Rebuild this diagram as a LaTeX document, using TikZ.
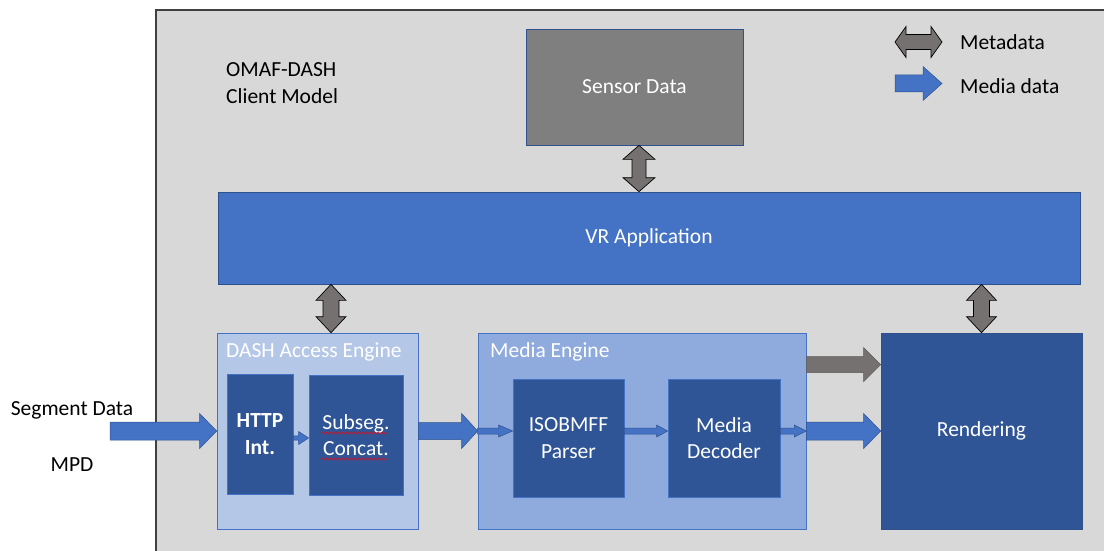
\documentclass[tikz,border=0pt]{standalone}
\usepackage{fontspec}
\setmainfont{Carlito}
\usetikzlibrary{calc,decorations.pathmorphing}
\definecolor{bggray}{HTML}{D8D8D8}
\definecolor{bgline}{HTML}{404040}
\definecolor{sensorgray}{HTML}{7F7F7F}
\definecolor{vrblue}{HTML}{4472C4}
\definecolor{lightblue}{HTML}{B4C7E7}
\definecolor{midblue}{HTML}{8FAADC}
\definecolor{darkblue}{HTML}{2F5597}
\definecolor{bordc}{HTML}{2F528F}
\definecolor{metagray}{HTML}{767171}
% horizontal single arrow: style, from, to, halfshaft, halfhead, headlen
\newcommand\hmarrow[6]{\path[#1] let \p1=(#2), \p2=(#3) in
  (\x1,\y1+#4pt) -- (\x2-#6pt,\y1+#4pt) -- (\x2-#6pt,\y1+#5pt) -- (\x2,\y1)
  -- (\x2-#6pt,\y1-#5pt) -- (\x2-#6pt,\y1-#4pt) -- (\x1,\y1-#4pt) -- cycle;}
% horizontal double arrow
\newcommand\hdarrow[6]{\path[#1] let \p1=(#2), \p2=(#3) in
  (\x1,\y1) -- (\x1+#6pt,\y1+#5pt) -- (\x1+#6pt,\y1+#4pt) -- (\x2-#6pt,\y1+#4pt)
  -- (\x2-#6pt,\y1+#5pt) -- (\x2,\y1) -- (\x2-#6pt,\y1-#5pt) -- (\x2-#6pt,\y1-#4pt)
  -- (\x1+#6pt,\y1-#4pt) -- (\x1+#6pt,\y1-#5pt) -- cycle;}
% vertical double arrow (from top to bottom)
\newcommand\vdarrow[6]{\path[#1] let \p1=(#2), \p2=(#3) in
  (\x1,\y1) -- (\x1+#5pt,\y1-#6pt) -- (\x1+#4pt,\y1-#6pt) -- (\x1+#4pt,\y2+#6pt)
  -- (\x1+#5pt,\y2+#6pt) -- (\x1,\y2) -- (\x1-#5pt,\y2+#6pt) -- (\x1-#4pt,\y2+#6pt)
  -- (\x1-#4pt,\y1-#6pt) -- (\x1-#5pt,\y1-#6pt) -- cycle;}
\begin{document}
\begin{tikzpicture}[x=1pt,y=-1pt,
  box/.style={draw=bordc, line width=0.7pt, inner sep=0pt, text=white,
    font=\fontsize{21.5}{26.5}\selectfont, align=center},
  lbl/.style={inner sep=0pt, font=\fontsize{21.5}{26.5}\selectfont},
  metaarrow/.style={fill=metagray, draw=black, line width=0.7pt},
  mediaarrow/.style={fill=vrblue, draw=bordc, line width=0.5pt},
  grayarrow/.style={fill=metagray, draw=metagray!80!black, line width=0.4pt},
  squiggle/.style={draw=red, line width=0.6pt, decorate,
    decoration={snake, amplitude=1pt, segment length=4pt}}]
\useasboundingbox (0,0) rectangle (1104,551);
\fill[white] (0,0) rectangle (1104,551);
\begin{scope}
  \clip (0,0) rectangle (1104,551);
  \draw[fill=bggray, draw=bgline, line width=1.2pt] (156,10) rectangle (1130,580);
\end{scope}

% title and legend
\node[lbl, anchor=west, align=left] (title) at (226,83) {OMAF-DASH\\Client Model};
\node[lbl, anchor=west] (legmeta) at (960,42) {Metadata};
\node[lbl, anchor=west] (legmedia) at (960,86) {Media data};
\coordinate (lm1) at (895,42);
\coordinate (lm2) at (942,42);
\coordinate (ld1) at (895,83.5);
\coordinate (ld2) at (942,83.5);

% boxes
\node[box, fill=sensorgray, minimum width=217pt, minimum height=116pt] (sensor) at (634.5,87) {Sensor Data};
\node[box, fill=vrblue, minimum width=862pt, minimum height=92pt] (vr) at (649,238) {VR Application};
\node[box, fill=lightblue, draw=vrblue, minimum width=201pt, minimum height=196pt] (dash) at (317.5,431) {};
\node[box, fill=midblue, draw=vrblue, minimum width=328pt, minimum height=196pt] (media) at (642,431) {};
\node[box, fill=darkblue, minimum width=201pt, minimum height=196pt] (render) at (981.5,431) {Rendering};
\node[box, fill=darkblue, draw=vrblue, minimum width=66pt, minimum height=120pt, font=\fontsize{21.5}{27}\selectfont\bfseries] (http) at (260,434) {HTTP\\Int.};
\node[box, fill=darkblue, draw=vrblue, minimum width=94pt, minimum height=120pt] (subseg) at (356,435) {Subseg.\\Concat.};
\node[box, fill=darkblue, draw=vrblue, minimum width=111pt, minimum height=118pt] (iso) at (568.5,438) {ISOBMFF\\Parser};
\node[box, fill=darkblue, draw=vrblue, minimum width=112pt, minimum height=118pt] (dec) at (724,438) {Media\\Decoder};

\node[lbl, text=white, anchor=west] (dashlbl) at (226,352) {DASH Access Engine};
\node[lbl, text=white, anchor=west] (medialbl) at (490,352) {Media Engine};
\node[lbl] (seglbl) at (72,410) {Segment Data};
\node[lbl] (mpdlbl) at (72,465) {MPD};

% spell-check squiggles
\draw[squiggle] ($(subseg.center)+(-35,-2)$) -- ++(66,0);
\draw[squiggle] ($(subseg.center)+(-35,24)$) -- ++(66,0);

% legend arrows
\hdarrow{metaarrow}{lm1}{lm2}{7.5}{15.5}{11}
\hmarrow{mediaarrow}{ld1}{ld2}{8.5}{17}{19}

% metadata double arrows
\coordinate (sa) at ($(sensor.south)+(4.5,0)$);
\vdarrow{metaarrow}{sa}{sa |- vr.north}{7}{16}{14}
\coordinate (da) at ($(dash.north)+(13.5,0)$);
\vdarrow{metaarrow}{da |- vr.south}{da}{8}{15}{16}
\vdarrow{metaarrow}{render.north |- vr.south}{render.north}{8}{15}{16}

% media data arrows
\coordinate (segstart) at (110,431);
\hmarrow{mediaarrow}{segstart}{dash.west}{9}{17.5}{17}
\hmarrow{mediaarrow}{dash.east}{media.west}{8.5}{17.5}{16}
\coordinate (hs) at ($(http.east)+(0,4)$);
\hmarrow{mediaarrow}{hs}{hs -| subseg.west}{2.2}{6.5}{10}
\hmarrow{mediaarrow}{media.west}{iso.west |- media.west}{3}{6}{14}
\hmarrow{mediaarrow}{iso.east |- media.west}{dec.west |- media.west}{3}{6}{11}
\hmarrow{mediaarrow}{dec.east |- media.west}{media.east}{3}{6}{12}
\coordinate (gs) at ($(media.north east)+(0,32)$);
\hmarrow{grayarrow}{gs}{gs -| render.west}{8}{17}{17}
\hmarrow{mediaarrow}{media.east}{render.west}{9}{17.5}{17}
\end{tikzpicture}
\end{document}
